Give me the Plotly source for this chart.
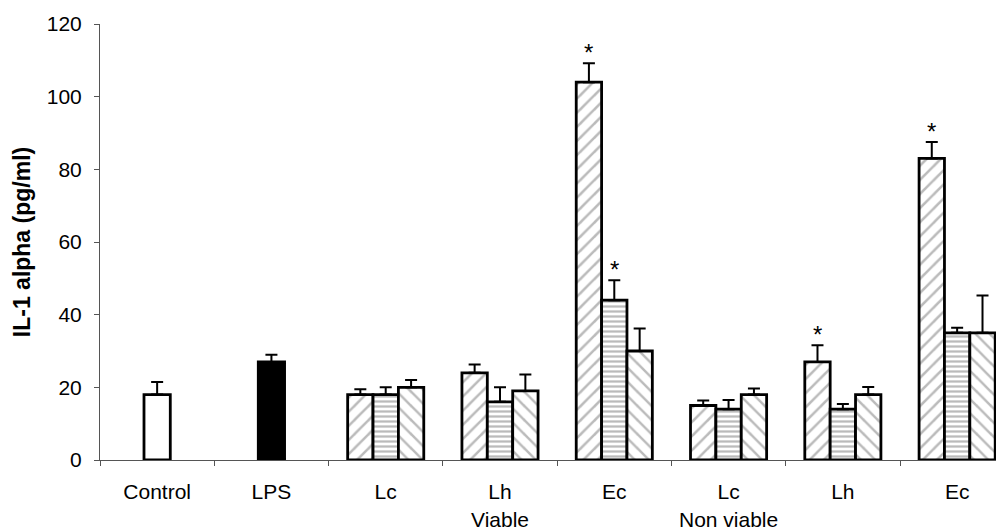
import plotly.graph_objects as go

# ---- data ----
categories = ["Control", "LPS", "V_Lc", "V_Lh", "V_Ec", "NV_Lc", "NV_Lh", "NV_Ec"]
tick_labels = ["Control", "LPS", "Lc", "Lh<br>Viable", "Ec", "Lc<br>Non viable", "Lh", "Ec"]

single_cats = ["Control", "LPS"]
single_vals = [18, 27]
single_errs = [3.5, 2]

triple_cats = ["V_Lc", "V_Lh", "V_Ec", "NV_Lc", "NV_Lh", "NV_Ec"]
series1_vals = [18, 24, 104, 15, 27, 83]
series1_errs = [1.5, 2.3, 5.2, 1.4, 4.6, 4.5]
series2_vals = [18, 16, 44, 14, 14, 35]
series2_errs = [2, 4, 5.5, 2.5, 1.4, 1.4]
series3_vals = [20, 19, 30, 18, 18, 35]
series3_errs = [2, 4.5, 6.2, 1.7, 2.1, 10.3]

# significance marks: (series index, category)
stars = [(0, "V_Ec"), (1, "V_Ec"), (0, "NV_Lh"), (0, "NV_Ec")]

FONT = "Liberation Sans, Arial, sans-serif"
fig = go.Figure()

W3 = 0.222
offsets = [-1.5 * W3, -0.5 * W3, 0.5 * W3]
patterns = [dict(shape="/", fgcolor="#777777", bgcolor="white", size=10, solidity=0.25),
            dict(shape="-", fgcolor="#777777", bgcolor="white", size=5, solidity=0.45),
            dict(shape="\\", fgcolor="#777777", bgcolor="white", size=10, solidity=0.25)]

# single bars
fig.add_trace(go.Bar(
    x=single_cats, y=single_vals, width=0.23, offset=-0.115,
    marker=dict(color=["white", "black"], line=dict(color="black", width=2.8)),
    error_y=dict(type="data", symmetric=False, array=single_errs,
                 arrayminus=[0] * len(single_errs), color="black", thickness=2, width=6),
    showlegend=False))

all_vals = [series1_vals, series2_vals, series3_vals]
all_errs = [series1_errs, series2_errs, series3_errs]
for i in range(3):
    fig.add_trace(go.Bar(
        x=triple_cats, y=all_vals[i], width=W3, offset=offsets[i],
        marker=dict(color="white", pattern=patterns[i], line=dict(color="black", width=2.8)),
        error_y=dict(type="data", symmetric=False, array=all_errs[i],
                     arrayminus=[0] * len(all_errs[i]), color="black", thickness=2, width=6),
        showlegend=False))

for s, cat in stars:
    j = triple_cats.index(cat)
    xi = categories.index(cat) + offsets[s] + W3 / 2
    fig.add_annotation(x=xi, y=all_vals[s][j] + all_errs[s][j], text="*", showarrow=False,
                       yanchor="bottom", yshift=-5, font=dict(family=FONT, size=24, color="black"))

# page body adds an 8px offset, so the figure is 8px smaller than the window
fig.update_layout(
    width=996, height=524,
    margin=dict(l=92, r=0, t=16, b=72),
    paper_bgcolor="white", plot_bgcolor="white",
    barmode="overlay",
    font=dict(family=FONT, color="black"),
    xaxis=dict(type="category", categoryorder="array", categoryarray=categories,
               tickvals=categories, ticktext=tick_labels, tickson="boundaries",
               range=[-0.5, 7.41], showline=True, linecolor="#555", linewidth=1,
               ticks="outside", ticklen=5, tickcolor="#555", showgrid=False,
               automargin=False, ticklabelstandoff=13,
               tickfont=dict(size=21, family=FONT, color="black")),
    yaxis=dict(range=[0, 120], dtick=20, showline=True, linecolor="#555", linewidth=1,
               ticks="outside", ticklen=5, tickcolor="#555", showgrid=False, zeroline=False,
               automargin=False, ticklabelstandoff=8,
               tickfont=dict(size=21, family=FONT, color="black"),
               title=dict(text="<b>IL-1 alpha (pg/ml)</b>", font=dict(size=23, family=FONT, color="black"),
                          standoff=9)),
)

fig.write_html("out.html")
